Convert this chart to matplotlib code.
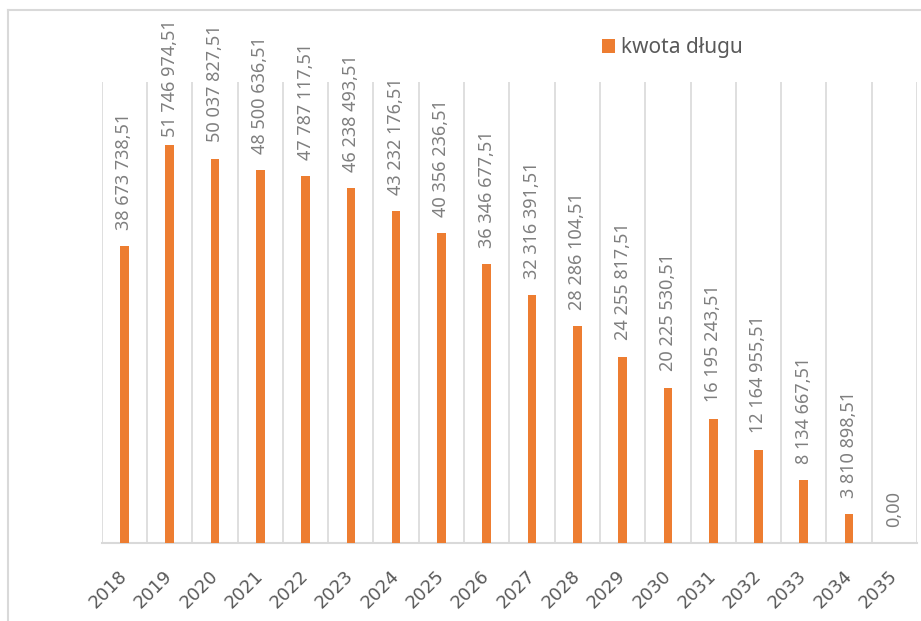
import matplotlib.pyplot as plt
from matplotlib.lines import Line2D
import numpy as np

years = ['2018', '2019', '2020', '2021', '2022', '2023', '2024', '2025', '2026',
         '2027', '2028', '2029', '2030', '2031', '2032', '2033', '2034', '2035']
debt = [38673738.51, 51746974.51, 50037827.51, 48500636.51, 47787117.51,
        46238493.51, 43232176.51, 40356236.51, 36346677.51, 32316391.51,
        28286104.51, 24255817.51, 20225530.51, 16195243.51, 12164955.51,
        8134667.51, 3810898.51, 0.00]
series_name = 'kwota długu'

plt.rcParams['font.family'] = ['Noto Sans', 'DejaVu Sans']

bar_color = '#ED7D31'
grid_color = '#D9D9D9'


def fmt_pl(v):
    return f"{v:,.2f}".replace(',', ' ').replace('.', ',')


fig = plt.figure(figsize=(9.21, 6.21), dpi=100, facecolor='w')
ax = fig.add_axes([0.1104, 0.1256, 0.8853, 0.7424])

x = np.arange(len(years))
ax.bar(x, debt, width=0.19, color=bar_color, label=series_name, zorder=3)

ax.set_xlim(-0.5, len(years) - 0.5)
ax.set_ylim(0, 60e6)

# vertical gridlines between categories
for b in np.arange(-0.5, len(years), 1.0):
    ax.axvline(b, color=grid_color, lw=1.2, zorder=1)

for s in ['top', 'right', 'left']:
    ax.spines[s].set_visible(False)
ax.spines['bottom'].set_color(grid_color)
ax.spines['bottom'].set_linewidth(1.5)
ax.set_yticks([])
ax.set_xticks(x)
ax.set_xticklabels(years, rotation=45, ha='right', va='center',
                   rotation_mode='anchor', fontsize=13, color='#595959',
                   family='DejaVu Sans')
ax.tick_params(axis='x', length=0, pad=22)

# value labels, kept inside the chart area at the top
for xi, v in zip(x, debt):
    ypos = min(v + 2.1e6, 52.9e6)
    ax.text(xi, ypos, fmt_pl(v), rotation=90, ha='center', va='bottom',
            fontsize=13, color='#7F7F7F', zorder=4)

leg = fig.legend(loc='center left', bbox_to_anchor=(0.645, 0.923), frameon=False,
                 fontsize=15, handlelength=0.6, handleheight=0.6, handletextpad=0.3,
                 borderaxespad=0)
for t in leg.get_texts():
    t.set_color('#595959')

# outer chart frame (left and top edges visible)
fig.add_artist(Line2D([0.0087, 0.0087], [0.0, 0.984], color=grid_color, lw=1.5,
                      transform=fig.transFigure))
fig.add_artist(Line2D([0.0087, 1.0], [0.984, 0.984], color=grid_color, lw=1.5,
                      transform=fig.transFigure))

fig.savefig('out.png', dpi=100)
